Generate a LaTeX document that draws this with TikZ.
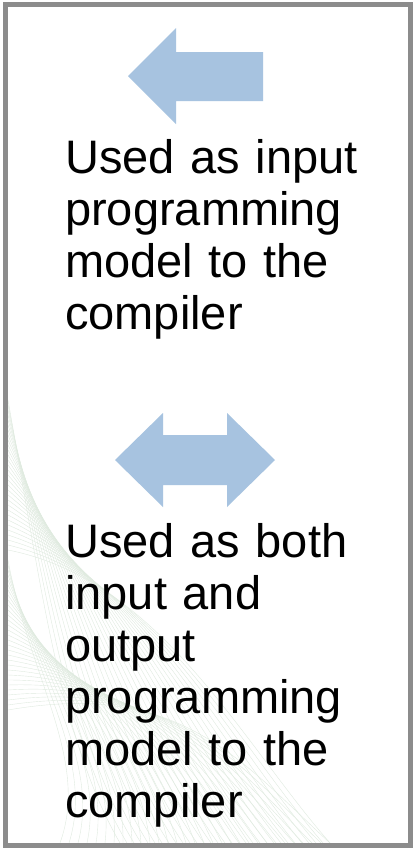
\documentclass[tikz,border=0pt]{standalone}
\usepackage{fontspec}
\setmainfont{Liberation Sans}
\definecolor{arrowblue}{RGB}{167,195,224}
\definecolor{framegray}{RGB}{140,140,140}
\definecolor{wavegreen}{RGB}{224,235,224}

\begin{document}
\begin{tikzpicture}[x=1pt,y=-1pt,
        every text node part/.style={align=left},
        note/.style={anchor=base west,inner sep=0pt,text width=345pt,
            font=\fontsize{47}{52}\selectfont},
        block/.style={fill=arrowblue,draw=none}]
        \useasboundingbox (0,0) rectangle (413,849);
        \fill[white] (0,0) rectangle (413,849);

        % faint background waves
        \begin{scope}
            \clip (8,8) rectangle (408,843);
            \foreach \i in {0,...,30} {
                \draw[wavegreen,line width=0.4pt]
                    (8,{400+5*\i}) .. controls ({40+4*\i},580) and ({60+6*\i},740) .. ({120+7*\i},843);
                \draw[wavegreen,line width=0.4pt]
                    (8,{560+5*\i}) .. controls ({30+5*\i},680) and ({90+5*\i},760) .. ({60+9*\i},843);
            }
        \end{scope}

        \draw[framegray,line width=5pt] (5.5,4.5) rectangle (410.5,845.5);

        \draw[block] (128,76) -- (176,28) -- (176,52) -- (263,52)
            -- (263,101) -- (176,101) -- (176,124) -- cycle;

        \draw[block] (115,460) -- (163,413) -- (163,435) -- (227,435)
            -- (227,413) -- (275,460) -- (227,507) -- (227,485)
            -- (163,485) -- (163,507) -- cycle;

        \node[note] (N0) at (65,173.5) {Used as input\\programming\\model to the\\compiler};
        \node[note] (N1) at (65,557) {Used as both\\input and\\output\\programming\\model to the\\compiler};
    \end{tikzpicture}
\end{document}
